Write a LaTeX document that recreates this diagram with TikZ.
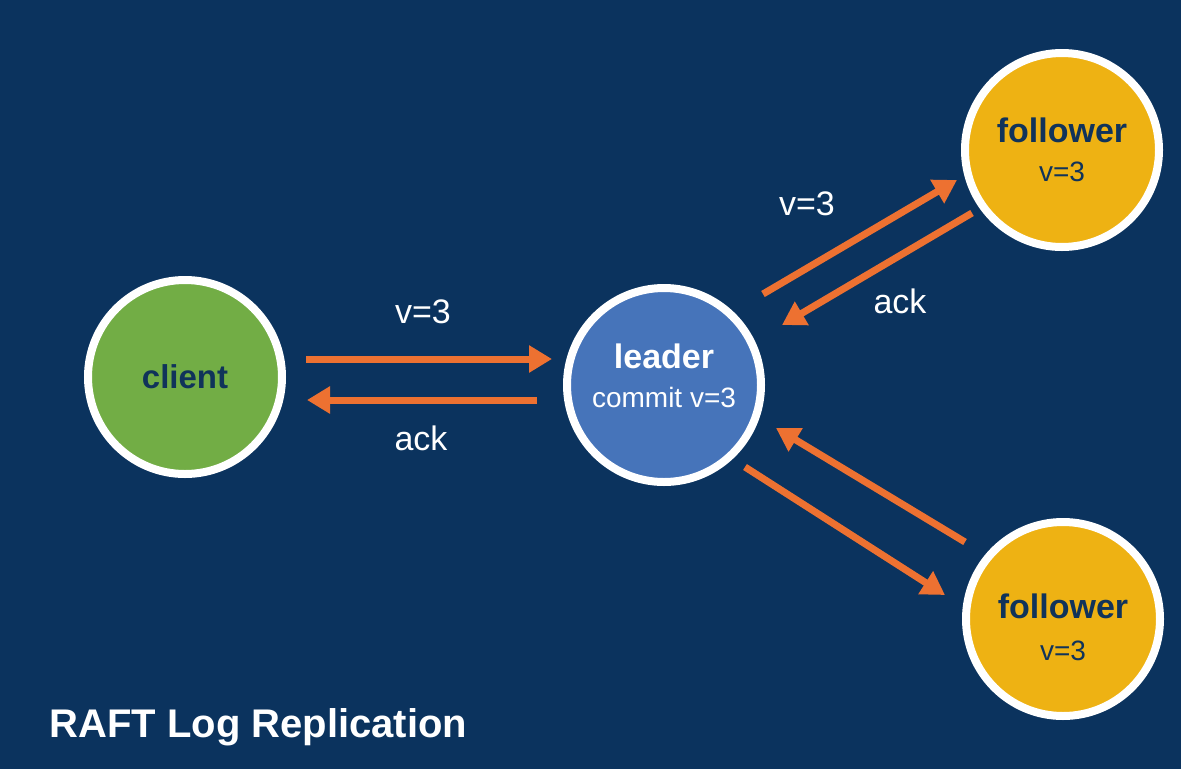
\documentclass[tikz,border=0pt]{standalone}
\usepackage{fontspec}
\setmainfont{Liberation Sans}
\usetikzlibrary{arrows.meta,positioning}

\definecolor{bgnavy}{HTML}{0B335E}
\definecolor{inknavy}{HTML}{10335A}
\definecolor{clientgreen}{HTML}{72AD45}
\definecolor{leaderblue}{HTML}{4674BA}
\definecolor{followergold}{HTML}{EEB213}
\definecolor{msgorange}{HTML}{ED7131}

\begin{document}
\begin{tikzpicture}[
    x=1pt, y=-1pt,
    align=center,
    actor/.style={circle, minimum size=194pt, inner sep=0pt,
      line width=8pt, draw=white},
    twoline/.style={font=\fontsize{28}{39}\selectfont},
    flow/.style={draw=msgorange, line width=7pt,
      -{Triangle[length=23pt, width=26pt]}},
    lbl/.style={text=white, font=\fontsize{34}{40}\selectfont},
    big/.style={font=\fontsize{33}{40}\selectfont\bfseries}
  ]

  % backdrop
  \fill[bgnavy] (0,0) rectangle (1181,769);

  % layout the nodes

  \node (client)    [actor, fill=clientgreen, text=inknavy, big] at (185,377)  {client};
  \node (leader)    [actor, twoline, fill=leaderblue, text=white,
                     right=277pt of client, yshift=-8pt]                     {{\fontsize{34}{40}\selectfont\bfseries leader}\\
                                                                               commit v=3\rule[-18pt]{0pt}{18pt}};
  \node (followerA) [actor, twoline, fill=followergold, text=inknavy] at (1062,150) {{\fontsize{34}{40}\selectfont\bfseries follower}\\
                                                                               v=3};
  \node (followerB) [actor, twoline, fill=followergold, text=inknavy] at (1063,619) {{\fontsize{34}{40}\selectfont\bfseries\rule{0pt}{41pt}follower}\\[3pt]
                                                                               v=3};

  % message labels
  \node (reqlbl)  [lbl] at (423,312) {v=3};
  \node (acklbl)  [lbl] at (421,438) {ack};
  \node (replbl)  [lbl] at (807,204) {v=3};
  \node (ack2lbl) [lbl] at (900,301) {ack};

  % messages
  \draw[flow] ([shift={(121,-18)}]client.center)    -- ([shift={(-112,-26)}]leader.center);
  \draw[flow] ([shift={(-127,15)}]leader.center)    -- ([shift={(122,23)}]client.center);

  \draw[flow] ([shift={(99,-91)}]leader.center)     -- ([shift={(-105,30)}]followerA.center);
  \draw[flow] ([shift={(-90,63)}]followerA.center)  -- ([shift={(118,-60)}]leader.center);

  \draw[flow] ([shift={(81,82)}]leader.center)      -- ([shift={(-118,-24)}]followerB.center);
  \draw[flow] ([shift={(-98,-77)}]followerB.center) -- ([shift={(112,43)}]leader.center);

  % caption
  \node (title) [anchor=west, text=white, font=\fontsize{40}{44}\selectfont\bfseries]
        at (46,727) {RAFT Log Replication};

\end{tikzpicture}
\end{document}
